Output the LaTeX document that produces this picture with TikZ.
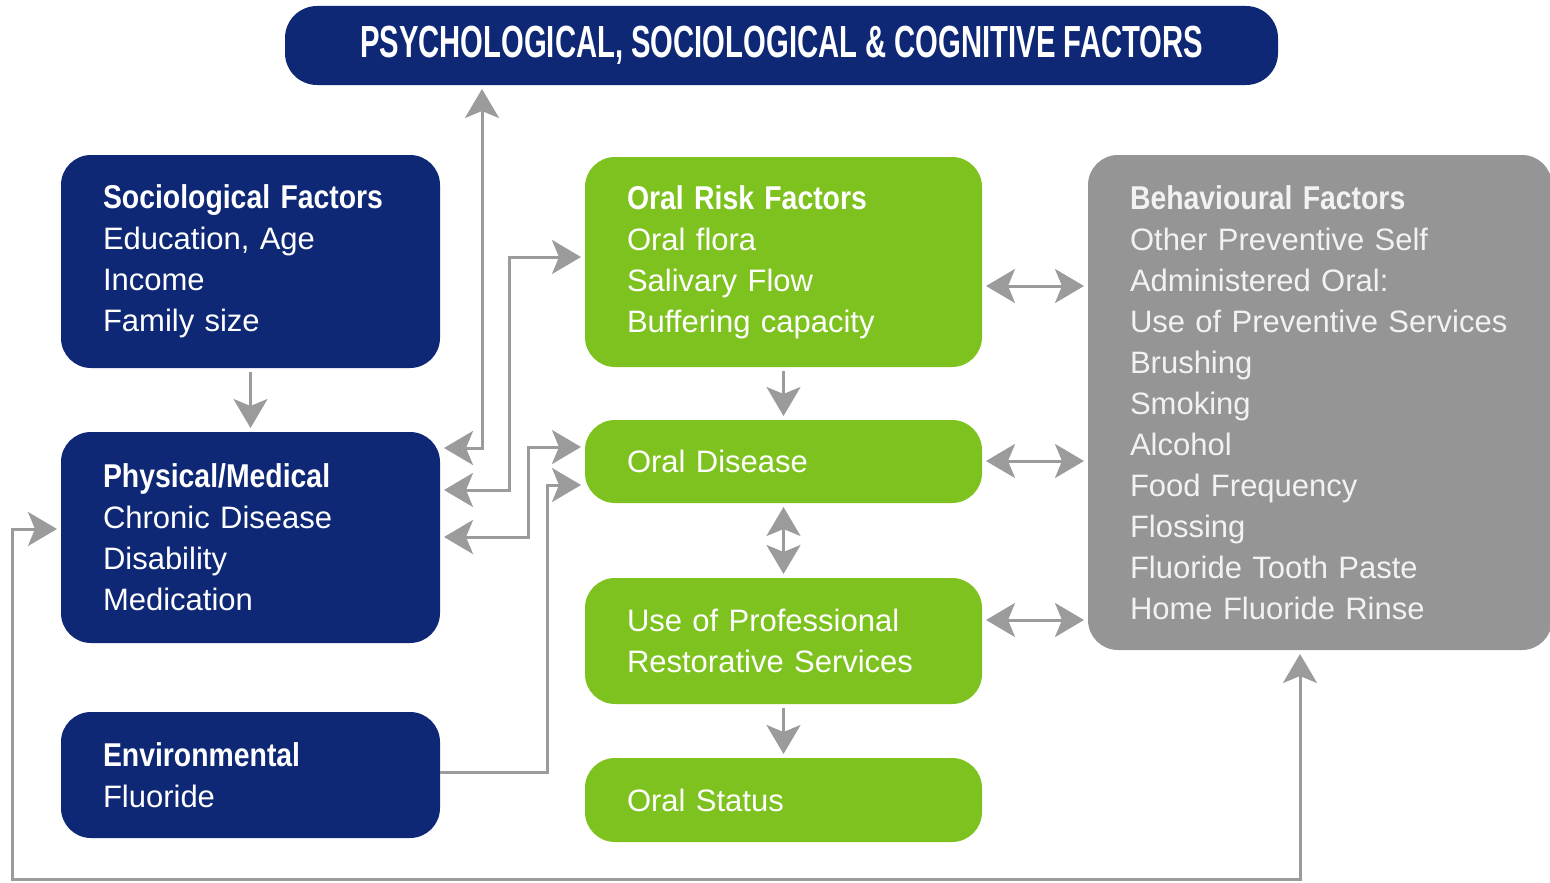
\documentclass[tikz,border=0pt]{standalone}
\usepackage{fontspec}
\setmainfont{Liberation Sans}
\newfontfamily\hdfont[FakeStretch=0.86]{Liberation Sans}
\newfontfamily\ttlfont[FakeStretch=0.65]{Liberation Sans}
\usetikzlibrary{arrows.meta}
\definecolor{navy}{HTML}{0E2876}
\definecolor{lgreen}{HTML}{7DC21E}
\definecolor{boxgray}{HTML}{959595}
\definecolor{arrgray}{HTML}{9B9B9B}
\definecolor{softwhite}{HTML}{F2F2F2}
\newcommand{\hd}[1]{{\hdfont\bfseries\fontsize{33}{41}\selectfont #1}}
\begin{document}
\begin{tikzpicture}[x=1pt,y=-1pt,
  box/.style={rounded corners=30pt, inner xsep=42pt, inner ysep=0pt, outer sep=4pt,
    align=left, text=white, font=\fontsize{31}{41}\selectfont},
  navybox/.style={box, fill=navy, minimum width=379pt, text width=295pt},
  greenbox/.style={box, fill=lgreen, minimum width=397pt, text width=313pt},
  graybox/.style={box, fill=boxgray, text=softwhite},
  tip/.style={},
  conn/.style={draw=arrgray, line width=3pt, -{Stealth[length=29pt,width=34pt,inset=7pt]}},
  conn2/.style={draw=arrgray, line width=3pt, {Stealth[length=29pt,width=34pt,inset=7pt]}-{Stealth[length=29pt,width=34pt,inset=7pt]}}
]
\useasboundingbox (0,0) rectangle (1550,883);

% top title
\node[box, fill=navy, rounded corners=32pt, minimum width=993pt, minimum height=79pt,
      inner xsep=0pt, align=center, font=\ttlfont\bfseries\fontsize{45}{50}\selectfont]
  (title) at (781.5,45.5) {PSYCHOLOGICAL, SOCIOLOGICAL \& COGNITIVE FACTORS};

% left column
\node[navybox, minimum height=213pt] (soc) at (250.5,261.5)
  {\hd{Sociological Factors}\\Education, Age\\Income\\Family size};
\node[navybox, minimum height=211pt] (phys) at (250.5,537.5)
  {\hd{Physical/Medical}\\Chronic Disease\\Disability\\Medication};
\node[navybox, minimum height=126pt] (env) at (250.5,775)
  {\hd{Environmental}\\Fluoride};

% middle column
\node[greenbox, minimum height=210pt] (risk) at (783.5,262)
  {\hd{Oral Risk Factors}\\Oral flora\\Salivary Flow\\Buffering capacity};
\node[greenbox, minimum height=83pt] (disease) at (783.5,461.5)
  {Oral Disease};
\node[greenbox, minimum height=126pt] (prof) at (783.5,641)
  {Use of Professional\\Restorative Services};
\node[greenbox, minimum height=84pt] (status) at (783.5,800)
  {Oral Status};

% right column
\node[graybox, minimum width=464pt, text width=380pt, minimum height=495pt] (behav) at (1320,402.5)
  {\hd{Behavioural Factors}\\Other Preventive Self\\Administered Oral:\\Use of Preventive Services\\Brushing\\Smoking\\Alcohol\\Food Frequency\\Flossing\\Fluoride Tooth Paste\\Home Fluoride Rinse};

% connectors
\draw[conn] (soc.south) -- (phys.north);
\draw[conn2] (phys.east |- 0,448) -| (482,0 |- title.south);
\draw[conn2] (phys.east |- 0,490) -| (509,257) -- (risk.west |- 0,257);
\draw[conn2] (phys.east |- 0,537) -| (528,447) -- (disease.west |- 0,447);
\draw[conn, shorten <=-4pt] (env.east |- 0,772) -| (547,485) -- (disease.west |- 0,485);

\draw[conn] (risk.south) -- (disease.north);
\draw[conn2] (disease.south) -- (prof.north);
\draw[conn] (prof.south) -- (status.north);

\draw[conn2] (risk.east |- 0,286) -- (behav.west |- 0,286);
\draw[conn2] (disease.east |- 0,461) -- (behav.west |- 0,461);
\draw[conn2] (prof.east |- 0,620) -- (behav.west |- 0,620);

\draw[conn2] (phys.west |- 0,529) -| (12,879) -| (1300,0 |- behav.south);
\end{tikzpicture}
\end{document}
